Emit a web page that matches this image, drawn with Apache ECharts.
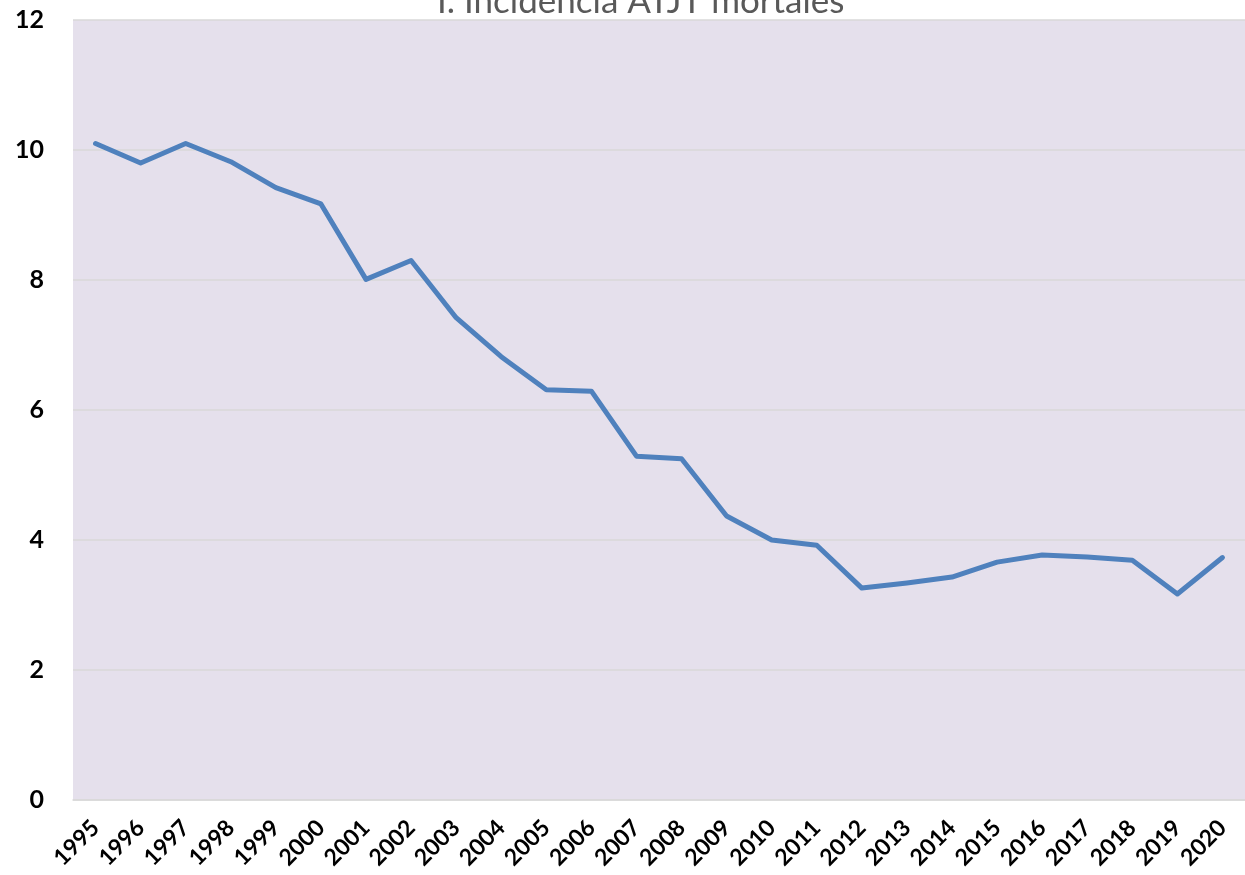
<!DOCTYPE html>
<html>
<head>
<meta charset="utf-8">
<script src="https://cdn.jsdelivr.net/npm/echarts@6/dist/echarts.min.js"></script>
<style>html,body{margin:0;padding:0;background:#fff;}#c{width:1245px;height:875px;}</style>
</head>
<body>
<div id="c"></div>
<script>
const years = ['1995','1996','1997','1998','1999','2000','2001','2002','2003','2004','2005','2006','2007','2008','2009','2010','2011','2012','2013','2014','2015','2016','2017','2018','2019','2020'];
const incidencia = [10.1,9.8,10.1,9.82,9.42,9.17,8.01,8.3,7.42,6.82,6.31,6.29,5.29,5.25,4.37,4.0,3.92,3.26,3.34,3.43,3.66,3.77,3.74,3.69,3.17,3.73];
const titleText = 'I. Incidencia ATJT mortales';

const chart = echarts.init(document.getElementById('c'));
chart.setOption({
  animation: false,
  backgroundColor: '#ffffff',
  title: {
    text: titleText,
    left: 432,
    top: -21,
    textStyle: { color: '#595959', fontSize: 35, fontWeight: 'normal', fontFamily: 'Lato' }
  },
  grid: {
    left: 73, right: 0, top: 20, bottom: 75,
    show: true, backgroundColor: '#e5e0ec', borderWidth: 0, containLabel: false
  },
  xAxis: {
    type: 'category',
    data: years,
    boundaryGap: true,
    axisLine: { show: true, lineStyle: { color: '#d9d9d9', width: 1.5 } },
    axisTick: { show: false },
    axisLabel: { rotate: 45, interval: 0, margin: 24, color: '#000', fontWeight: 'bold', fontSize: 23, fontFamily: 'Lato' }
  },
  yAxis: {
    type: 'value',
    min: 0, max: 12, interval: 2,
    axisLine: { show: false },
    axisTick: { show: false },
    splitLine: { show: true, lineStyle: { color: '#d9d9d9', width: 1.5 } },
    axisLabel: { margin: 29, color: '#000', fontWeight: 'bold', fontSize: 25, fontFamily: 'Lato' }
  },
  series: [{
    type: 'line',
    data: incidencia,
    symbol: 'none',
    lineStyle: { color: '#4f81bd', width: 5, cap: 'round', join: 'round' },
    itemStyle: { color: '#4f81bd' }
  }]
});
</script>
</body>
</html>
